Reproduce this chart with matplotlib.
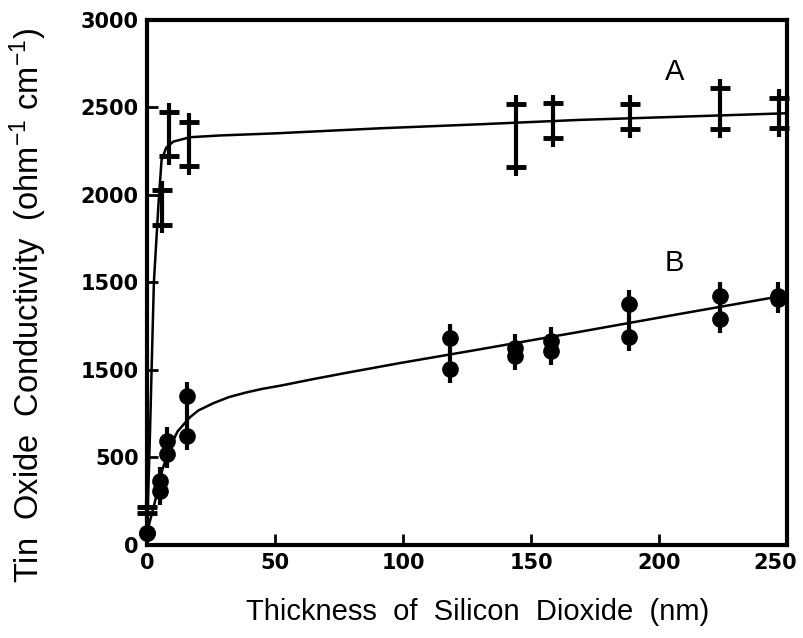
import matplotlib
matplotlib.use("Agg")
import matplotlib.pyplot as plt
import matplotlib.transforms as mtransforms
import numpy as np

plt.rcParams['mathtext.fontset'] = 'custom'
plt.rcParams['mathtext.rm'] = 'Liberation Sans'
plt.rcParams['mathtext.default'] = 'regular'

# curve A (hand-drawn fit through the A data)
curve_a_x = [0.3, 1.2, 1.8, 2.7, 4.5, 5.7, 7.5, 10.3, 16.8, 28.5, 50, 91, 130, 169, 225, 250]
curve_a_y = [200, 650, 1000, 1500, 1950, 2200, 2270, 2305, 2330, 2340, 2352, 2381, 2404, 2429, 2455, 2467]

# curve B
curve_b_x = [0, 3, 6, 9, 12, 16.8, 20, 25.9, 32, 38.9, 45, 52, 65, 78, 99, 130, 169, 208, 250]
curve_b_y = [70, 240, 430, 560, 650, 730, 768, 810, 845, 872, 892, 910, 948, 984, 1040, 1118, 1218, 1320, 1428]

# A: two readings per thickness
a_x = [0, 6, 8.5, 16.4, 144, 158.6, 188.5, 224, 247]
a_lo = [185, 1830, 2220, 2163, 2160, 2324, 2375, 2377, 2381]
a_hi = [215, 2030, 2475, 2418, 2522, 2524, 2520, 2612, 2553]

# B: two readings per thickness
b_x = [0, 5, 8, 15.5, 118.4, 143.75, 158, 188.3, 223.8, 246.4]
b_lo = [69, 310, 520, 621, 1008, 1080, 1109, 1189, 1291, 1405]
b_hi = [69, 363, 593, 851, 1180, 1128, 1167, 1377, 1421, 1420]

x_ticks = [0, 50, 100, 150, 200, 250]
y_ticks = [0, 500, 1000, 1500, 2000, 2500, 3000]
y_tick_labels = ['0', '500', '1500', '1500', '2000', '2500', '3000']

fig = plt.figure(figsize=(8.04, 6.38), dpi=100)
ax = fig.add_axes([0.1828, 0.1458, 0.7961, 0.8229])

ax.plot(curve_a_x, curve_a_y, color='black', lw=1.8, solid_capstyle='round')
ax.plot(curve_b_x, curve_b_y, color='black', lw=1.8, solid_capstyle='round')

a_lo = np.array(a_lo)
a_hi = np.array(a_hi)
ax.vlines(a_x, a_lo - 50, a_hi + 50, color='black', lw=3, clip_on=False)
ax.plot(a_x, a_lo, ls='none', marker='_', ms=14, mew=3.5, color='black', clip_on=False)
ax.plot(a_x, a_hi, ls='none', marker='_', ms=14, mew=3.5, color='black', clip_on=False)

b_lo = np.array(b_lo)
b_hi = np.array(b_hi)
ax.vlines(b_x[1:], b_lo[1:] - 80, b_hi[1:] + 80, color='black', lw=3)
ax.plot(b_x, b_lo, ls='none', marker='o', ms=11, color='black', clip_on=False)
ax.plot(b_x, b_hi, ls='none', marker='o', ms=11, color='black', clip_on=False)

ax.text(206, 2700, 'A', fontsize=21, family='Liberation Sans', ha='center', va='center')
ax.text(206, 1610, 'B', fontsize=21, family='Liberation Sans', ha='center', va='center')

ax.set_xlim(0, 250)
ax.set_ylim(0, 3000)
ax.set_xticks(x_ticks)
ax.set_yticks(y_ticks)
ax.set_yticklabels(y_tick_labels)
ax.tick_params(direction='in', length=8, width=2, pad=6)
for lab in ax.get_xticklabels() + ax.get_yticklabels():
    lab.set_fontsize(15)
    lab.set_fontweight('bold')
    lab.set_family('DejaVu Sans')
# last x label sits left of the corner
last = ax.get_xticklabels()[-1]
last.set_transform(last.get_transform() +
                   mtransforms.ScaledTranslation(-12 / 100, 0, fig.dpi_scale_trans))
for s in ax.spines.values():
    s.set_linewidth(3)

fig.text(478 / 804, 1 - 612 / 638, 'Thickness  of  Silicon  Dioxide  (nm)',
         fontsize=21, family='Liberation Sans', ha='center', va='center')
fig.text(28 / 804, 1 - 306 / 638, 'Tin  Oxide  Conductivity  (ohm$^{-1}$ cm$^{-1}$)',
         fontsize=23.5, family='Liberation Sans', rotation=90, ha='center', va='center')

fig.savefig('out.png', dpi=100)
